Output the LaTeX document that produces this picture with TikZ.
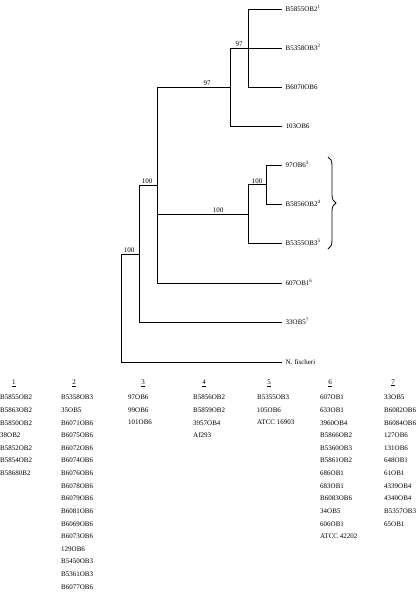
\documentclass[tikz,border=0pt]{standalone}
\usepackage{fontspec}
\setmainfont{Liberation Serif}
\usetikzlibrary{decorations.pathreplacing}

\tikzset{
  leaf/.style={anchor=west, inner xsep=3.5pt, inner ysep=0pt, text height=4.6pt, text depth=0pt, font=\fontsize{7}{8}\selectfont},
  boot/.style={anchor=south, inner sep=1pt, font=\fontsize{7}{8}\selectfont},
  head/.style={inner sep=0pt, font=\fontsize{7}{8}\selectfont},
  group/.style={anchor=north west, inner sep=0pt, align=left, font=\fontsize{7}{12.63}\selectfont},
  branch/.style={line width=0.8pt}
}

\begin{document}
\begin{tikzpicture}[x=1pt, y=-1pt]
  \useasboundingbox (0,0) rectangle (416,602);

  % Define nodes
  \node[leaf] (l1) at (282,9) {B5855OB2\textsuperscript{1}};
  \node[leaf] (l2) at (282,48) {B5358OB3\textsuperscript{2}};
  \node[leaf] (l3) at (282,87) {B6070OB6};
  \node[leaf] (l4) at (282,126) {103OB6};
  \node[leaf] (l5) at (282,165) {97OB6\textsuperscript{3}};
  \node[leaf] (l6) at (282,204) {B5856OB2\textsuperscript{4}};
  \node[leaf] (l7) at (282,243) {B5355OB3\textsuperscript{5}};
  \node[leaf] (l8) at (282,283) {607OB1\textsuperscript{6}};
  \node[leaf] (l9) at (282,322) {33OB5\textsuperscript{7}};
  \node[leaf] (l10) at (282,362) {N. fischeri};

  \coordinate (a) at (248,48);
  \coordinate (b) at (230,87);
  \coordinate (c) at (266,184.5);
  \coordinate (d) at (248,214);
  \coordinate (e) at (157,185);
  \coordinate (f) at (139,254);
  \coordinate (g) at (121,308);

  % Bootstrap values
  \node[boot] (sa) at (239,48) {97};
  \node[boot] (sb) at (207,87) {97};
  \node[boot] (sc) at (257,184.5) {100};
  \node[boot] (sd) at (218,214) {100};
  \node[boot] (se) at (147,185) {100};
  \node[boot] (sf) at (129,254) {100};

  % Draw edges
  \draw[branch] (a) |- (l1.west);
  \draw[branch] (a) -- (l2.west);
  \draw[branch] (a) |- (l3.west);
  \draw[branch] (b) |- (a);
  \draw[branch] (b) |- (l4.west);
  \draw[branch] (c) |- (l5.west);
  \draw[branch] (c) |- (l6.west);
  \draw[branch] (d) |- (c);
  \draw[branch] (d) |- (l7.west);
  \draw[branch] (e) |- (b);
  \draw[branch] (e) |- (d);
  \draw[branch] (e) |- (l8.west);
  \draw[branch] (f) |- (e);
  \draw[branch] (f) |- (l9.west);
  \draw[branch] (g) |- (f);
  \draw[branch] (g) |- (l10.west);

  % Brace
  \coordinate (bt) at (328,157);
  \coordinate (bb) at (328,249);
  \draw[line width=0.8pt, decorate, decoration={brace, amplitude=8pt}] (bt) -- (bb);

  % Groups
  \node[head] (h1) at (14,383) {\underline{1}};
  \node[head] (h2) at (74,383) {\underline{2}};
  \node[head] (h3) at (143,383) {\underline{3}};
  \node[head] (h4) at (204,383) {\underline{4}};
  \node[head] (h5) at (269,383) {\underline{5}};
  \node[head] (h6) at (330,383) {\underline{6}};
  \node[head] (h7) at (393,383) {\underline{7}};

  \node[group] (g1) at (0,394.9) {B5855OB2\\B5863OB2\\B5850OB2\\38OB2\\B5852OB2\\B5854OB2\\B58680B2};
  \node[group] (g2) at (61,394.9) {B5358OB3\\35OB5\\B6071OB6\\B6075OB6\\B6072OB6\\B6074OB6\\B6076OB6\\B6078OB6\\B6079OB6\\B6081OB6\\B6069OB6\\B6073OB6\\129OB6\\B5450OB3\\B5361OB3\\B6077OB6};
  \node[group] (g3) at (128,394.9) {97OB6\\99OB6\\101OB6};
  \node[group] (g4) at (193,394.9) {B5856OB2\\B5859OB2\\3957OB4\\Af293};
  \node[group] (g5) at (257,394.9) {B5355OB3\\105OB6\\ATCC 16903};
  \node[group] (g6) at (320,394.9) {607OB1\\633OB1\\3960OB4\\B5866OB2\\B5360OB3\\B5861OB2\\686OB1\\683OB1\\B6083OB6\\34OB5\\606OB1\\ATCC 42202};
  \node[group] (g7) at (384,394.9) {33OB5\\B6082OB6\\B6084OB6\\127OB6\\131OB6\\648OB1\\61OB1\\4339OB4\\4340OB4\\B5357OB3\\65OB1};
\end{tikzpicture}
\end{document}
